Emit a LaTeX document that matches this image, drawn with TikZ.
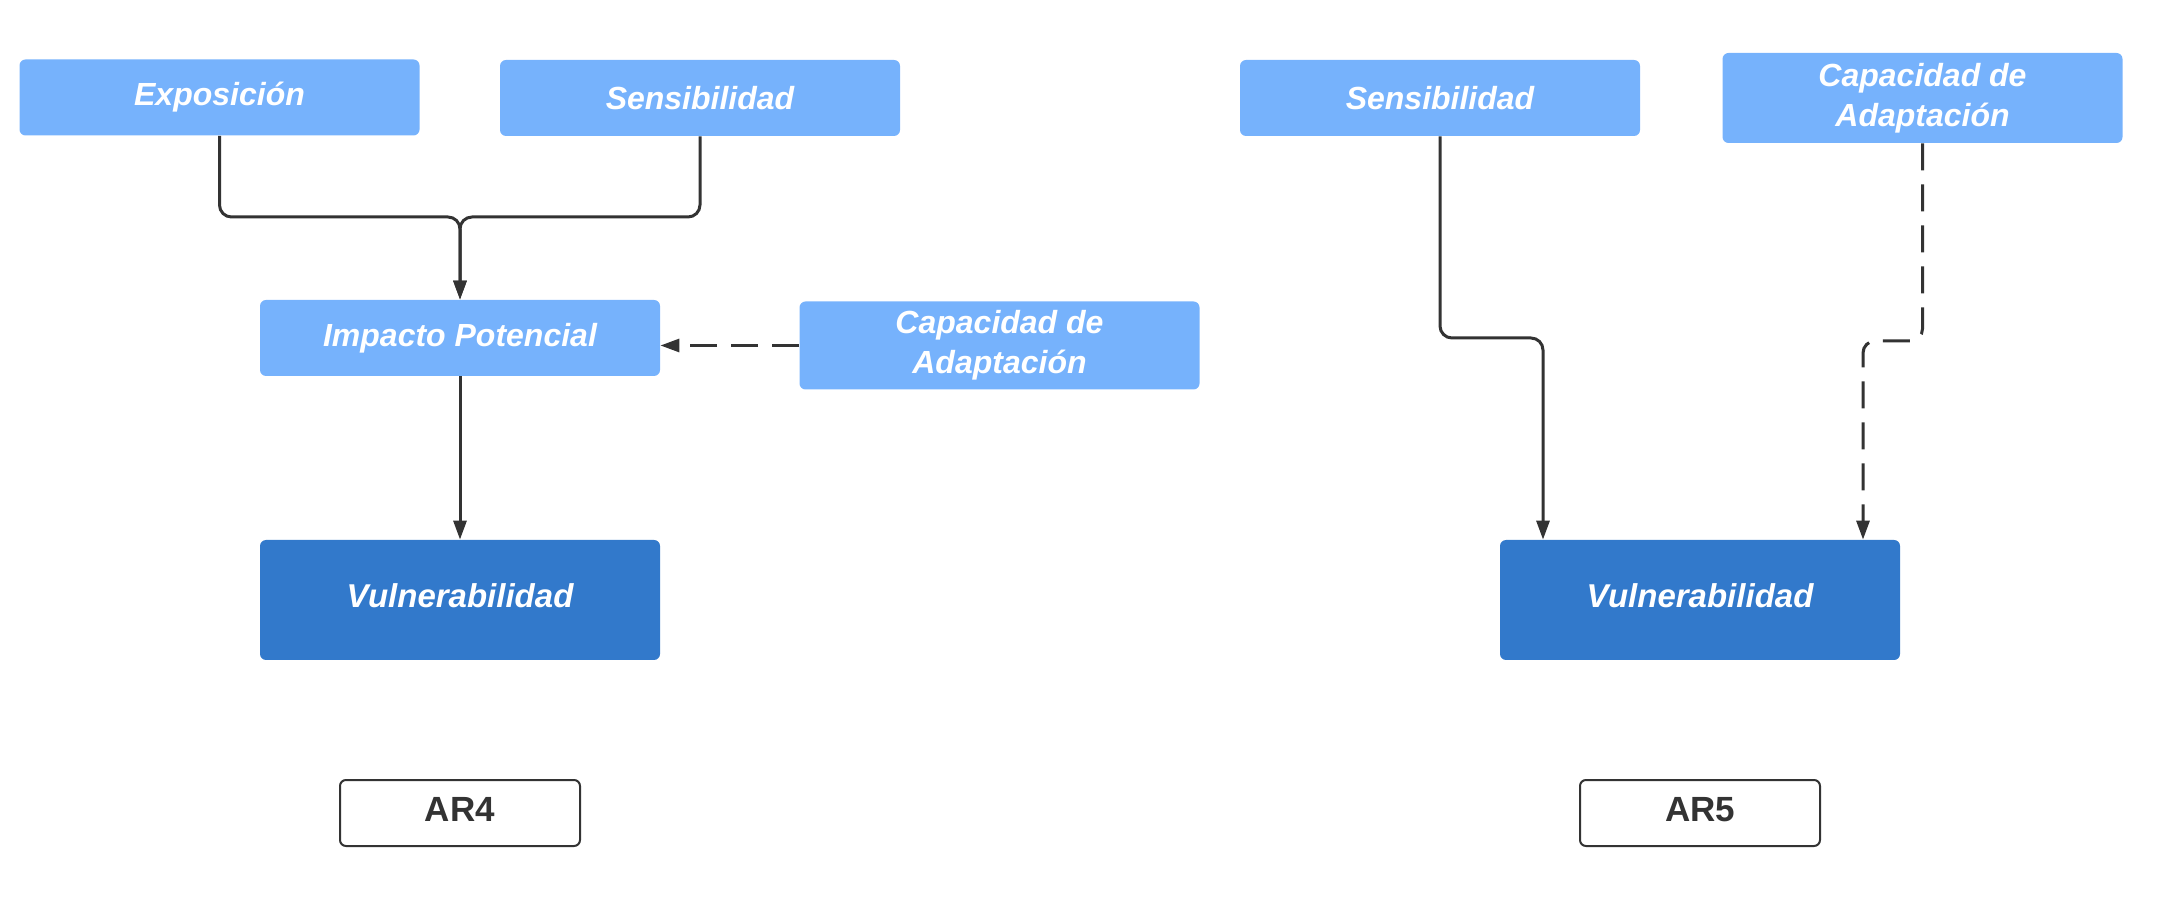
\documentclass[tikz,border=0pt]{standalone}
\usepackage{fontspec}
\setmainfont{Liberation Sans}
\usetikzlibrary{
  arrows.meta,
  positioning
}
\definecolor{lightblue}{HTML}{76B2FC}
\definecolor{darkblue}{HTML}{3279CB}
\definecolor{linegray}{HTML}{333333}

\begin{document}
\begin{tikzpicture}[
    x=0.5pt, y=-0.5pt,
  box/.style = {shape=rectangle, rounded corners=3pt,
    fill=lightblue, text=white, align=center, inner sep=0pt,
    minimum width=200pt, minimum height=38pt,
    font=\fontsize{16}{20}\selectfont\bfseries\itshape},
  main/.style = {box, fill=darkblue, minimum height=60pt, text depth=4pt,
    font=\fontsize{16.5}{20}\selectfont\bfseries\itshape},
  tag/.style = {shape=rectangle, rounded corners=3pt, draw=linegray,
    line width=1pt, fill=white, text=linegray, inner sep=0pt,
    minimum width=120pt, minimum height=33pt, text depth=4pt,
    font=\fontsize{17.5}{20}\selectfont\bfseries},
  link/.style = {draw=linegray, line width=1.5pt, rounded corners=6pt,
    -{Triangle[length=9.5pt, width=6.5pt]}},
  dashlink/.style = {link, dash pattern=on 13.5pt off 7pt}]
    \useasboundingbox (0,0) rectangle (2164,897);
  % AR4
  \node[box] (expo) at (219.5,97.5) {Exposición};
  \node[box] (sensA) at (700,98) {Sensibilidad};
  \node[box] (imp) at (460,338) {Impacto Potencial};
  \node[box, minimum height=44pt] (capA) at (999.5,345.5) {Capacidad de\\Adaptación};
  \node[main] (vulA) at (460,600) {Vulnerabilidad};
  \node[tag] (ar4) at (460,813) {AR4};
  \coordinate (jA) at (460,217);
  \draw[link] (expo.south) |- (jA) -- (imp.north);
  \draw[link] (sensA.south) |- (jA) -- (imp.north);
  \draw[dashlink] (capA.west) -- (capA.west -| imp.east);
  \draw[link] (imp.south) -- (vulA.north);
  % AR5
  \node[box] (sensB) at (1440,98) {Sensibilidad};
  \node[box, minimum height=45pt] (capB) at (1922.5,98) {Capacidad de\\Adaptación};
  \node[main] (vulB) at (1700,600) {Vulnerabilidad};
  \node[tag] (ar5) at (1700,813) {AR5};
  \coordinate (jB) at (1543,338);
  \coordinate (jC) at (1863,341);
  \draw[link] (sensB.south) |- (jB) -- (jB |- vulB.north);
  \draw[dashlink] (capB.south) |- (jC) -- (jC |- vulB.north);
\end{tikzpicture}
\end{document}
